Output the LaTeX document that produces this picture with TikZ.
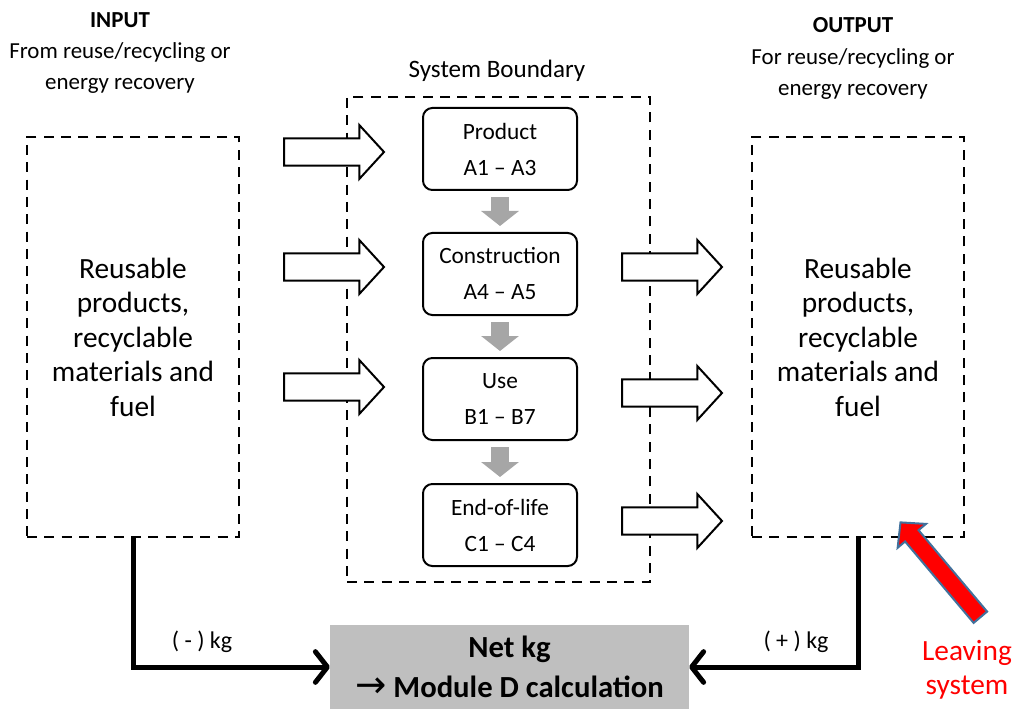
\documentclass[tikz,border=0pt]{standalone}
\usepackage{fontspec}
\setmainfont{Carlito}
\newfontfamily\symfont{DejaVu Sans}
\usetikzlibrary{shapes.arrows,arrows.meta}

\definecolor{boxgray}{RGB}{191,191,191}
\definecolor{stepgray}{RGB}{166,166,166}
\definecolor{redline}{RGB}{65,113,156}

\tikzset{
    dashbox/.style={draw, dash pattern=on 7.5pt off 5.5pt, line width=1.7pt, align=center},
    stagebox/.style={draw, rounded corners=7pt, line width=1.5pt, minimum width=115.5pt, minimum height=61.5pt, align=center, font=\fontsize{17.5}{27}\selectfont},
    hollowarrow/.style={single arrow, draw, line width=1.5pt, fill=white, inner xsep=0pt, inner ysep=9.4pt, minimum height=75pt, single arrow head extend=10pt, single arrow tip angle=95, anchor=tail},
    steparrow/.style={draw=stepgray, line width=14pt, -{Triangle[length=11.25pt, width=27.75pt]}, shorten <=4.5pt, shorten >=4.5pt},
    netarrow/.style={line width=3.75pt, -{Straight Barb[round, length=9pt, width=23pt]}},
    bigtext/.style={font=\fontsize{22}{25.9}\selectfont},
    headtext/.style={align=center, font=\fontsize{17.2}{23.5}\selectfont}
}

\begin{document}
\begin{tikzpicture}[x=0.75pt, y=-0.75pt]
        \useasboundingbox (0,0) rectangle (1013,709);

        % Headings
        \node[headtext] (inhead) at (120,53) {\textbf{INPUT}\\From reuse/recycling or\\energy recovery};
        \node[headtext] (outhead) at (853,58.5) {\textbf{OUTPUT}\\For reuse/recycling or\\energy recovery};
        \node[headtext, font=\fontsize{18.8}{23.5}\selectfont] (sblabel) at (497,71) {System Boundary};

        % Boxes
        \node[dashbox, minimum width=227.25pt, minimum height=363.75pt] (sysb) at (498.5,339.5) {};
        \node[dashbox, bigtext, minimum width=159pt, minimum height=300pt] (inbox) at (133,337) {Reusable\\products,\\recyclable\\materials and\\fuel};
        \node[dashbox, bigtext, minimum width=159pt, minimum height=300pt] (outbox) at (858,337) {Reusable\\products,\\recyclable\\materials and\\fuel};

        \node[stagebox] (prod) at (500,149) {Product\\A1 -- A3};
        \node[stagebox] (constr) at (500,274) {Construction\\A4 -- A5};
        \node[stagebox] (use) at (500,399) {Use\\B1 -- B7};
        \node[stagebox] (eol) at (500,525) {End-of-life\\C1 -- C4};

        \node[fill=boxgray, minimum width=269pt, minimum height=63pt, align=center, font=\bfseries\fontsize{23}{30}\selectfont] (net) at (509.5,667) {\raisebox{-3pt}{Net kg}\\\raisebox{-3pt}{{\symfont\mdseries\fontsize{28}{24}\selectfont →} Module D calculation}};

        % Stage arrows
        \draw[steparrow] (prod) -- (constr);
        \draw[steparrow] (constr) -- (use);
        \draw[steparrow] (use) -- (eol);

        % Input and output arrows
        \node[hollowarrow] (in1) at (283,152) {};
        \node[hollowarrow] (in2) at (283,267) {};
        \node[hollowarrow] (in3) at (283,387) {};
        \node[hollowarrow] (out1) at (621,267) {};
        \node[hollowarrow] (out2) at (621,393) {};
        \node[hollowarrow] (out3) at (621,521) {};

        % Net lines
        \draw[netarrow] (inbox.south) |- (net.west);
        \draw[netarrow] (outbox.south) |- (net.east);
        \node[headtext, font=\fontsize{18}{23}\selectfont] (minus) at (202,642) {( - ) kg};
        \node[headtext, font=\fontsize{18}{23}\selectfont] (plus) at (796,642) {( + ) kg};

        % Leaving system
        \node[single arrow, draw=redline, fill=red, line width=1.5pt, inner xsep=0pt, inner ysep=5.85pt, minimum height=93pt, single arrow head extend=7.3pt, single arrow tip angle=93, rotate=130.1, anchor=tail] (leave) at (981,618) {};
        \node[align=center, text=red, font=\fontsize{22}{25.5}\selectfont] (leavetext) at (967,670) {Leaving\\system};
    \end{tikzpicture}
\end{document}
